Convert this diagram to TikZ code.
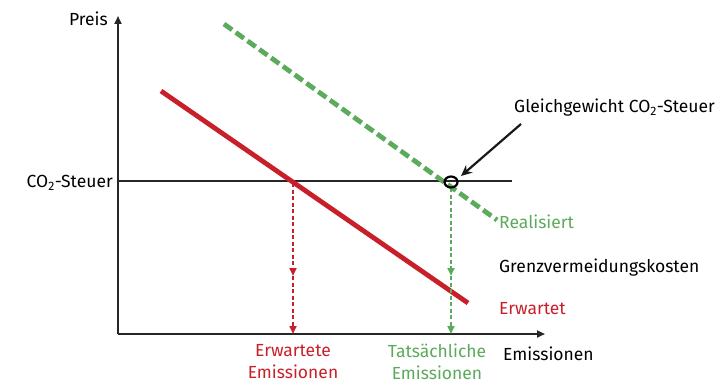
\documentclass[tikz,border=0pt]{standalone}
\usepackage{fontspec}
\setmainfont{Fira Sans}
\usetikzlibrary{arrows.meta}

\definecolor{costred}{RGB}{200,32,42}
\definecolor{costgreen}{RGB}{92,170,92}

\tikzset{
    axisline/.style={black!85, line width=2.6pt},
    curvered/.style={costred, line width=4.8pt},
    curvegreen/.style={costgreen, line width=4.8pt, dash pattern=on 10pt off 4.5pt},
    droparrow/.style={line width=2.2pt, dash pattern=on 4pt off 2.5pt, -{Triangle[width=7pt,length=8pt]}},
    lbl/.style={inner sep=1pt, font=\fontsize{17.5}{22}\selectfont}
}

\begin{document}
\begin{tikzpicture}[x=1pt, y=-1pt, line cap=butt]
\useasboundingbox (0,0) rectangle (717,385);

% axes
\coordinate (orig) at (118,334);
\coordinate (ytop) at (118,16);
\coordinate (xend) at (545,334);
\draw[axisline, -{Triangle[width=7pt,length=8pt]}] (orig) -- (ytop);
\draw[axisline, -{Triangle[width=7pt,length=8pt]}] (orig) -- (xend);

% tax level
\coordinate (taxl) at (118,181);
\coordinate (taxr) at (512,181);
\draw[black!85, line width=2.3pt] (taxl) -- (taxr);

% abatement cost curves
\coordinate (reda) at (161,91);
\coordinate (redb) at (468,303);
\coordinate (grna) at (224,24);
\coordinate (grnb) at (497,220);
\draw[curvered] (reda) -- (redb);
\draw[curvegreen] (grna) -- (grnb);

% drop lines
\coordinate (exptop) at (293,183);
\coordinate (expmid) at (293,276);
\coordinate (expbot) at (293,334);
\draw[droparrow, costred] (exptop) -- (expmid);
\draw[droparrow, costred] (expmid) -- (expbot);

\coordinate (acttop) at (451,188);
\coordinate (actmid) at (451,276);
\coordinate (actbot) at (451,334);
\draw[droparrow, costgreen] (acttop) -- (actmid);
\draw[droparrow, costgreen] (actmid) -- (actbot);

% equilibrium
\draw[black, line width=2.2pt] (451,182) ellipse[x radius=6.5, y radius=5.5];
\coordinate (eqtail) at (521,124);
\coordinate (eqhead) at (461,176);
\draw[black!90, line width=2.2pt, -{Stealth[width=10pt,length=11pt]}] (eqtail) -- (eqhead);

% labels
\node[lbl, anchor=east] (preis) at (109,19) {Preis};
\node[lbl, anchor=east] (steuer) at (114,183) {CO\textsubscript{2}-Steuer};
\node[lbl, anchor=west] (gleich) at (513,108) {Gleichgewicht CO\textsubscript{2}-Steuer};
\node[lbl, anchor=west, text=costgreen] (real) at (498,222) {Realisiert};
\node[lbl, anchor=west] (grenz) at (498,268) {Grenzvermeidungskosten};
\node[lbl, anchor=west, text=costred] (erw) at (498,309) {Erwartet};
\node[lbl, anchor=west] (emis) at (502,354) {Emissionen};
\node[lbl, anchor=north, align=center, text=costred] (erwemis) at (293,343) {Erwartete\\Emissionen};
\node[lbl, anchor=north, align=center, text=costgreen] (tatemis) at (437,343) {Tatsächliche\\Emissionen};

\end{tikzpicture}
\end{document}
